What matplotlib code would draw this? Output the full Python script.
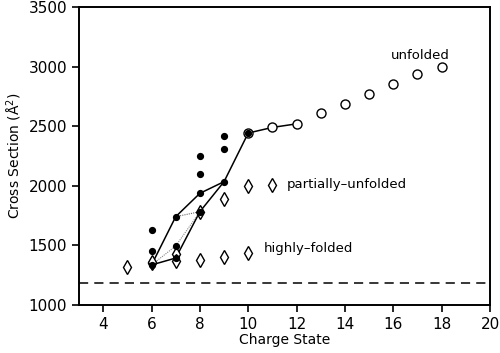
import matplotlib
matplotlib.use("Agg")
import matplotlib.pyplot as plt

# unfolded (open circles)
unf_z = [10, 11, 12, 13, 14, 15, 16, 17, 18]
unf_cs = [2443, 2490, 2520, 2611, 2686, 2770, 2854, 2940, 2997]

# partially-unfolded (diamonds)
part_z = [6, 7, 8, 9, 10, 11]
part_cs = [1352, 1430, 1783, 1889, 1998, 2007]

# highly-folded (diamonds)
high_z = [5, 6, 7, 8, 9, 10]
high_cs = [1321, 1360, 1365, 1380, 1405, 1439]

# filled dots
dot_z = [6, 6, 6, 7, 7, 7, 8, 8, 8, 8, 9, 9, 9, 10]
dot_cs = [1629, 1456, 1336, 1741, 1495, 1394, 2250, 2096, 1937, 1783, 2418, 2306, 2035, 2443]

# connecting paths
path1_z = [6, 7, 8, 9, 10, 11, 12]
path1_cs = [1336, 1741, 1937, 2035, 2443, 2490, 2520]
path2_z = [6, 7, 8, 9]
path2_cs = [1336, 1394, 1783, 2035]
path3_z = [6, 7, 8]
path3_cs = [1336, 1495, 1783]
path4_z = [7, 8]
path4_cs = [1741, 1783]

baseline = 1182

fig = plt.figure(figsize=(5, 3.53), dpi=100)
ax = fig.add_axes([0.158, 0.136, 0.822, 0.844])

ax.plot(path1_z, path1_cs, color="black", lw=1.1, zorder=2)
ax.plot(path2_z, path2_cs, color="black", lw=1.1, zorder=2)
ax.plot(path3_z, path3_cs, color="#888888", lw=0.8, ls=(0, (1, 1)), zorder=2)
ax.plot(path4_z, path4_cs, color="#666666", lw=0.8, ls=(0, (1, 1)), zorder=2)

ax.plot(unf_z, unf_cs, "o", ms=6.5, mfc="white", mec="black", mew=1.0, zorder=3)
ax.plot(part_z, part_cs, "d", ms=7, mfc="white", mec="black", mew=1.0, zorder=3)
ax.plot(high_z, high_cs, "d", ms=7, mfc="white", mec="black", mew=1.0, zorder=3)
ax.plot(dot_z, dot_cs, "o", ms=4.2, color="black", zorder=4)

ax.axhline(baseline, color="black", lw=1.1, ls=(0, (6, 4)), zorder=1)

ax.text(17.1, 3097, "unfolded", ha="center", va="center", fontsize=9.5)
ax.text(11.6, 2015, "partially\u2013unfolded", ha="left", va="center", fontsize=9.5)
ax.text(10.65, 1478, "highly\u2013folded", ha="left", va="center", fontsize=9.5)

ax.set_xlim(3, 20)
ax.set_ylim(1000, 3500)
ax.set_xticks([4, 6, 8, 10, 12, 14, 16, 18, 20])
ax.set_yticks([1000, 1500, 2000, 2500, 3000, 3500])
ax.tick_params(direction="out", length=5, width=1.2, labelsize=11)
ax.set_xlabel("Charge State", fontsize=10, labelpad=1)
ax.set_ylabel("Cross Section (\u00c5$^2$)", fontsize=10, labelpad=3)
for s in ax.spines.values():
    s.set_linewidth(1.4)

fig.savefig("out.png", dpi=100)
